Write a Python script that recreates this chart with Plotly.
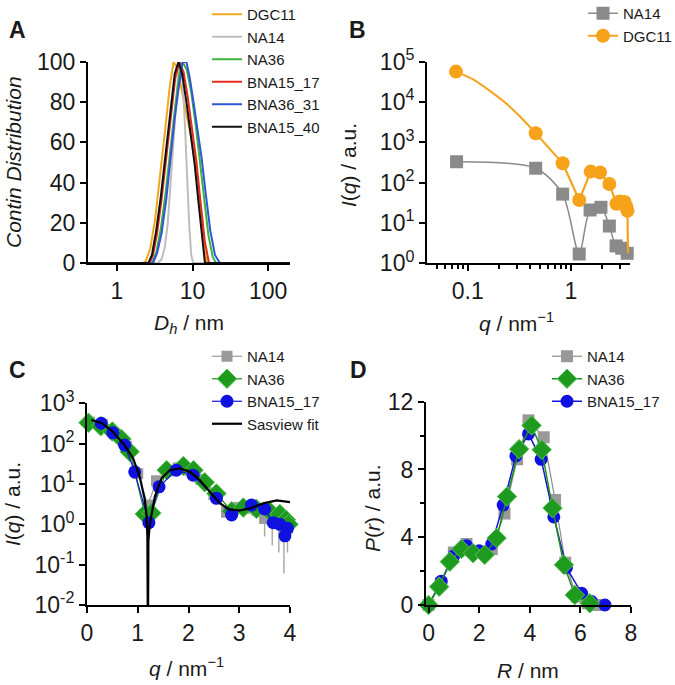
import plotly.graph_objects as go

# ---------------- Panel A: CONTIN distributions ----------------
a_names = ["DGC11", "NA14", "NA36", "BNA15_17", "BNA36_31", "BNA15_40"]
a_colors = ["#F2A81D", "#BDBDBD", "#3CB43C", "#E52A22", "#2E56D6", "#111111"]
a_dgc11_x = [0.4, 2.2, 2.4, 2.75, 3.2, 3.7, 4.3, 5.0, 5.6, 6.3, 7.2, 8.3, 9.6, 11.0, 12.6, 14.3, 15.5, 200]
a_dgc11_y = [0, 0, 1, 7, 22, 42, 65, 88, 100, 97, 86, 74, 62, 47, 26, 7, 0, 0]
a_na14_x = [0.4, 3.5, 3.9, 4.3, 4.7, 5.2, 5.8, 6.4, 6.9, 7.4, 7.9, 8.4, 9.0, 9.6, 10.2, 200]
a_na14_y = [0, 0, 2, 8, 20, 42, 70, 92, 100, 90, 70, 45, 20, 4, 0, 0]
a_na36_x = [0.4, 2.9, 3.3, 3.8, 4.4, 5.1, 5.9, 6.7, 7.4, 8.4, 9.6, 10.9, 12.4, 14.2, 16.2, 18.5, 20.5, 200]
a_na36_y = [0, 0, 5, 17, 35, 57, 78, 94, 100, 96, 85, 70, 52, 32, 14, 3, 0, 0]
a_bna1517_x = [0.4, 2.7, 3.0, 3.4, 3.9, 4.5, 5.2, 5.9, 6.7, 7.6, 8.6, 9.8, 11.2, 12.7, 14.5, 16.5, 200]
a_bna1517_y = [0, 0, 4, 15, 32, 53, 74, 92, 100, 95, 83, 68, 51, 31, 11, 0, 0]
a_bna3631_x = [0.4, 3.0, 3.4, 3.9, 4.5, 5.1, 5.8, 6.6, 7.4, 8.3, 9.2, 10.3, 11.6, 13.2, 15.0, 17.2, 19.8, 23.0, 200]
a_bna3631_y = [0, 0, 5, 15, 32, 52, 72, 88, 100, 100, 92, 80, 66, 52, 34, 16, 4, 0, 0]
a_bna1540_x = [0.4, 2.6, 2.9, 3.3, 3.8, 4.4, 5.0, 5.8, 6.5, 7.3, 8.3, 9.4, 10.6, 12.0, 13.5, 14.6, 200]
a_bna1540_y = [0, 0, 4, 16, 33, 55, 75, 94, 100, 94, 80, 65, 50, 30, 10, 0, 0]
a_xs = [a_dgc11_x, a_na14_x, a_na36_x, a_bna1517_x, a_bna3631_x, a_bna1540_x]
a_ys = [a_dgc11_y, a_na14_y, a_na36_y, a_bna1517_y, a_bna3631_y, a_bna1540_y]

# ---------------- Panel B: SAXS log-log ----------------
b_na14_q = [0.078, 0.455, 0.83, 1.2, 1.53, 1.95, 2.35, 2.73, 3.1, 3.5]
b_na14_I = [330, 228, 52, 1.7, 21, 24.5, 8.4, 2.7, 2.36, 1.77]
b_dgc11_q = [0.077, 0.455, 0.83, 1.2, 1.55, 1.91, 2.35, 2.75, 2.95, 3.15, 3.3, 3.45, 3.52]
b_dgc11_I = [56800, 1680, 302, 37, 188, 178, 93, 30, 34, 30, 33, 25, 20]
# curve drawn through the DGC11 data: smooth low-q part, straight high-q part
b_dgc11_curve_q = [0.077, 0.113, 0.164, 0.2375, 0.344, 0.455, 0.83]
b_dgc11_curve_I = [56800, 36400, 18840, 9020, 3640, 1680, 302]
b_dgc11_tail_q = [0.83, 1.2, 1.55, 1.91, 2.35, 2.75, 2.95, 3.15, 3.3, 3.45, 3.52, 3.56]
b_dgc11_tail_I = [302, 37, 188, 178, 93, 30, 34, 30, 33, 25, 20, 1.8]

# ---------------- Panel C: SAXS lin-log ----------------
c_na14_q = [0.05, 0.3, 0.55, 0.78, 1.0, 1.2, 1.37, 1.6, 1.8, 2.0, 2.25, 2.5, 2.75, 2.95, 3.15, 3.35, 3.5, 3.65, 3.78, 3.88, 3.95]
c_na14_I = [340, 300, 170, 85, 18, 3.0, 12, 21, 25, 22, 13, 5.5, 2.0, 2.6, 2.5, 2.2, 1.4, 1.3, 1.1, 0.9, 0.8]
c_na14_err = [0, 0, 0, 0, 0, 0.8, 0, 0, 0, 0, 0, 0, 0, 0, 0.2, 0.5, 0.9, 1.0, 0.9, 0.84, 0.6]
c_na36_q = [0.03, 0.27, 0.5, 0.68, 0.84, 1.14, 1.27, 1.57, 1.9, 2.1, 2.32, 2.55, 2.85, 3.08, 3.34, 3.6, 3.8, 3.92, 3.97]
c_na36_I = [330, 270, 200, 130, 63, 1.8, 1.9, 22, 28, 22, 11, 5.8, 2.1, 2.6, 2.4, 2.1, 1.8, 1.3, 1.0]
c_bna_q = [0.28, 0.51, 0.74, 0.94, 1.22, 1.42, 1.76, 2.09, 2.55, 2.85, 3.24, 3.5, 3.67, 3.8, 3.9, 3.95]
c_bna_I = [320, 185, 92, 20, 1.1, 8.5, 22, 16.5, 4.4, 1.7, 3.0, 2.4, 1.1, 1.0, 0.52, 0.8]
c_fit_q = [0.087, 0.3, 0.51, 0.74, 0.91, 1.04, 1.14, 1.17, 1.19, 1.2, 1.21, 1.24, 1.335, 1.47, 1.63, 1.83, 2.03, 2.22, 2.42, 2.62, 2.81, 3.01, 3.21, 3.47, 3.74, 4.0]
c_fit_I = [385, 320, 197, 92, 43, 15, 4.0, 1.8, 0.5, 0.001, 0.4, 1.05, 4.8, 13.8, 22, 24.4, 20, 12.5, 6.4, 3.3, 2.35, 2.2, 2.47, 3.3, 3.9, 3.55]

# ---------------- Panel D: P(r) ----------------
d_na14_R = [0, 0.5, 1.0, 1.5, 2.0, 2.5, 3.0, 3.5, 3.95, 4.55, 5.0, 5.4, 5.85, 6.3, 6.7]
d_na14_P = [0, 1.3, 3.1, 3.6, 3.1, 3.3, 5.4, 8.6, 10.9, 9.9, 6.2, 2.5, 0.5, 0.1, 0.0]
d_na36_R = [0, 0.42, 0.84, 1.3, 1.76, 2.22, 2.69, 3.1, 3.58, 4.07, 4.47, 4.9, 5.35, 5.78, 6.37]
d_na36_P = [0, 1.08, 2.56, 3.3, 3.06, 2.96, 3.95, 6.4, 9.2, 10.6, 9.17, 5.72, 2.37, 0.59, 0.1]
d_bna_R = [0, 0.5, 1.0, 1.5, 2.0, 2.5, 2.95, 3.45, 3.95, 4.45, 4.95, 5.45, 6.05, 6.44, 6.97]
d_bna_P = [0, 1.4, 2.9, 3.5, 3.2, 3.6, 5.9, 8.8, 10.1, 8.6, 5.2, 2.2, 0.69, 0.2, 0.0]

FONT = "Arial, Liberation Sans, sans-serif"
TXT = "#1a1a1a"
ORANGE = "#F6A31B"
GRAY_B = "#8A8A8A"
GREEN = "#1E9A1E"
BLUE = "#1010E0"

fig = go.Figure()

for n, c, xs, ys in zip(a_names, a_colors, a_xs, a_ys):
    fig.add_trace(go.Scatter(x=xs, y=ys, mode="lines", name=n, line=dict(color=c, width=2),
                             xaxis="x", yaxis="y", legend="legend"))

# Panel B
fig.add_trace(go.Scatter(x=b_na14_q, y=b_na14_I, mode="lines+markers", name="NA14",
                         line=dict(color=GRAY_B, width=1.5, shape="spline", smoothing=0.8),
                         marker=dict(symbol="square", size=13, color=GRAY_B),
                         xaxis="x2", yaxis="y2", legend="legend2", cliponaxis=False))
fig.add_trace(go.Scatter(x=b_dgc11_curve_q, y=b_dgc11_curve_I, mode="lines", showlegend=False,
                         line=dict(color=ORANGE, width=2, shape="spline", smoothing=0.6),
                         xaxis="x2", yaxis="y2", hoverinfo="skip"))
fig.add_trace(go.Scatter(x=b_dgc11_tail_q, y=b_dgc11_tail_I, mode="lines", showlegend=False,
                         line=dict(color=ORANGE, width=2.2),
                         xaxis="x2", yaxis="y2", hoverinfo="skip"))
fig.add_trace(go.Scatter(x=b_dgc11_q, y=b_dgc11_I, mode="markers", showlegend=False,
                         marker=dict(symbol="circle", size=14, color=ORANGE),
                         xaxis="x2", yaxis="y2", cliponaxis=False))
fig.add_trace(go.Scatter(x=[None], y=[None], mode="lines+markers", name="DGC11",
                         line=dict(color=ORANGE, width=2),
                         marker=dict(symbol="circle", size=14, color=ORANGE),
                         xaxis="x2", yaxis="y2", legend="legend2"))

# Panel C
fig.add_trace(go.Scatter(x=c_na14_q, y=c_na14_I, mode="lines+markers", name="NA14",
                         line=dict(color="#9A9A9A", width=1.2),
                         marker=dict(symbol="square", size=11, color="#9A9A9A"),
                         error_y=dict(type="data", array=c_na14_err, color="#AAAAAA", thickness=1.5, width=0),
                         xaxis="x3", yaxis="y3", legend="legend3", cliponaxis=False))
fig.add_trace(go.Scatter(x=c_na36_q, y=c_na36_I, mode="lines+markers", name="NA36",
                         line=dict(color="#1E8F1E", width=1.2),
                         marker=dict(symbol="diamond", size=15, color=GREEN, line=dict(color="#5CC15C", width=1)),
                         xaxis="x3", yaxis="y3", legend="legend3", cliponaxis=False))
fig.add_trace(go.Scatter(x=c_bna_q, y=c_bna_I, mode="lines+markers", name="BNA15_17",
                         line=dict(color="#1414D8", width=1.2),
                         marker=dict(symbol="circle", size=13, color=BLUE),
                         xaxis="x3", yaxis="y3", legend="legend3", cliponaxis=False))
fig.add_trace(go.Scatter(x=c_fit_q, y=c_fit_I, mode="lines", name="Sasview fit",
                         line=dict(color="#000000", width=2.2),
                         xaxis="x3", yaxis="y3", legend="legend3"))

# Panel D
fig.add_trace(go.Scatter(x=d_na14_R, y=d_na14_P, mode="lines+markers", name="NA14",
                         line=dict(color="#8E8E8E", width=1.2),
                         marker=dict(symbol="square", size=12, color="#999999"),
                         xaxis="x4", yaxis="y4", legend="legend4", legendrank=1001, cliponaxis=False))
fig.add_trace(go.Scatter(x=d_bna_R, y=d_bna_P, mode="lines+markers", name="BNA15_17",
                         line=dict(color="#1414D8", width=1.5),
                         marker=dict(symbol="circle", size=13, color=BLUE),
                         xaxis="x4", yaxis="y4", legend="legend4", legendrank=1003, cliponaxis=False))
fig.add_trace(go.Scatter(x=d_na36_R, y=d_na36_P, mode="lines+markers", name="NA36",
                         line=dict(color="#1E8F1E", width=1.5),
                         marker=dict(symbol="diamond", size=15, color=GREEN, line=dict(color="#5CC15C", width=1)),
                         xaxis="x4", yaxis="y4", legend="legend4", legendrank=1002, cliponaxis=False))

W, H = 675, 685
def px(x): return x / W
def py(y): return 1 - y / H

axis_common = dict(showline=True, linecolor="black", linewidth=2, ticks="outside", ticklen=6,
                   tickwidth=2, tickcolor="black", showgrid=False, zeroline=False, automargin=False,
                   tickfont=dict(family=FONT, size=23, color=TXT))

sup = lambda e: "10<sup>%s</sup>" % e

fig.update_layout(
    width=W, height=H, margin=dict(l=0, r=0, t=0, b=0, autoexpand=False),
    paper_bgcolor="white", plot_bgcolor="white", showlegend=True,
    xaxis=dict(axis_common, domain=[px(88), px(290)], type="log", range=[-0.384, 2.29],
               tickvals=[1, 10, 100], ticktext=["1", "10", "100"], anchor="y"),
    yaxis=dict(axis_common, domain=[py(263), py(62)], range=[0, 100],
               tickvals=[0, 20, 40, 60, 80, 100], anchor="x"),
    xaxis2=dict(axis_common, domain=[px(427), px(630)], type="log", range=[-1.394, 0.571],
                tickvals=[0.1, 1], ticktext=["0.1", "1"], anchor="y2",
                minor=dict(ticks="outside", ticklen=4, tickwidth=1.5, tickcolor="black",
                           tickvals=[0.05, 0.06, 0.07, 0.08, 0.09, 0.2, 0.3, 0.4, 0.5, 0.6, 0.7, 0.8, 0.9, 2, 3])),
    yaxis2=dict(axis_common, domain=[py(263.3), py(61.7)], type="log", range=[0, 5],
                tickvals=[1, 10, 100, 1000, 1e4, 1e5], ticktext=[sup(i) for i in range(6)], anchor="x2"),
    xaxis3=dict(axis_common, domain=[px(87), px(290)], range=[0, 4],
                tickvals=[0, 1, 2, 3, 4], anchor="y3"),
    yaxis3=dict(axis_common, domain=[py(605), py(403.3)], type="log", range=[-2, 3],
                tickvals=[0.01, 0.1, 1, 10, 100, 1000], ticktext=[sup("-2"), sup("-1"), sup(0), sup(1), sup(2), sup(3)],
                anchor="x3"),
    xaxis4=dict(axis_common, domain=[px(426), px(631)], range=[-0.1, 8],
                tickvals=[0, 2, 4, 6, 8], anchor="y4"),
    yaxis4=dict(axis_common, domain=[py(605), py(401.7)], range=[0, 12],
                tickvals=[0, 4, 8, 12], anchor="x4",
                minor=dict(ticks="outside", ticklen=4, tickwidth=1.5, tickcolor="black", tickvals=[2, 6, 10])),
)

leg_common = dict(bgcolor="rgba(0,0,0,0)", font=dict(family=FONT, size=15, color=TXT),
                  xanchor="left", yanchor="top", tracegroupgap=0, itemwidth=30)
fig.update_layout(
    legend=dict(leg_common, x=px(207), y=py(-2)),
    legend2=dict(leg_common, x=px(583), y=py(-3)),
    legend3=dict(leg_common, x=px(207), y=py(340)),
    legend4=dict(leg_common, x=px(547), y=py(340)),
)

def ann(text, x, y, size=21, angle=0, bold=False):
    fig.add_annotation(text=("<b>%s</b>" % text) if bold else text, x=px(x), y=py(y), xref="paper", yref="paper",
                       showarrow=False, textangle=angle, xanchor="center", yanchor="middle",
                       font=dict(family=FONT, size=size, color=TXT))

# panel letters
ann("A", 17, 30, size=23, bold=True)
ann("B", 357, 30, size=23, bold=True)
ann("C", 17, 370, size=23, bold=True)
ann("D", 358, 370, size=23, bold=True)

# axis titles
ann("<i>Contin Distribution</i>", 13, 162, angle=-90)
ann("<i>D<sub>h</sub></i> / nm", 189, 324)
ann("<i>I</i>(<i>q</i>) / a.u.", 348, 165, angle=-90)
ann("<i>q</i> / nm<sup>−1</sup>", 516, 322)
ann("<i>I</i>(<i>q</i>) / a.u.", 13, 504, angle=-90)
ann("<i>q</i> / nm<sup>−1</sup>", 186, 667)
ann("<i>P</i>(<i>r</i>) / a.u.", 372, 508, angle=-90)
ann("<i>R</i> / nm", 528, 670)

fig.write_html("out.html")
